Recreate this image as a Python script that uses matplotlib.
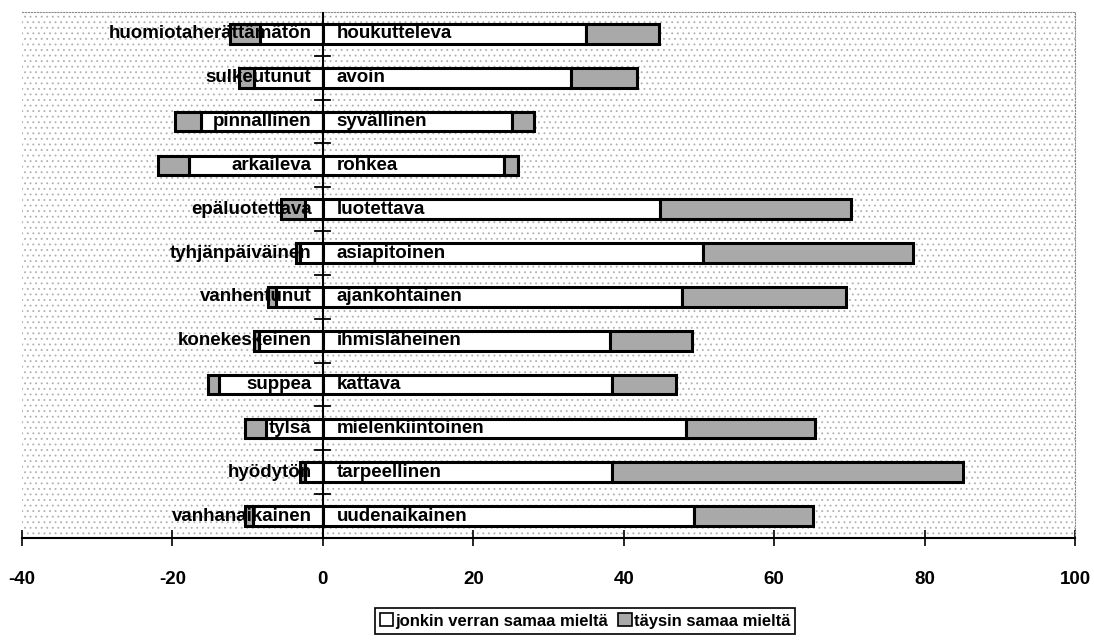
import matplotlib.pyplot as plt
from matplotlib.patches import Rectangle, Patch
import numpy as np

plt.rcParams['font.family'] = ['Liberation Sans', 'DejaVu Sans']
plt.rcParams['hatch.linewidth'] = 0.6

neg_labels = ["huomiotaherättämätön", "sulkeutunut", "pinnallinen", "arkaileva",
              "epäluotettava", "tyhjänpäiväinen", "vanhentunut", "konekeskeinen",
              "suppea", "tylsä", "hyödytön", "vanhanaikainen"]
pos_labels = ["houkutteleva", "avoin", "syvällinen", "rohkea", "luotettava",
              "asiapitoinen", "ajankohtainen", "ihmisläheinen", "kattava",
              "mielenkiintoinen", "tarpeellinen", "uudenaikainen"]

# jonkin verran / täysin samaa mieltä, negative end of each pair
neg_some = [8.4, 9.1, 16.2, 17.8, 2.4, 3.0, 6.2, 8.5, 13.8, 7.6, 2.4, 9.3]
neg_full = [4.0, 2.0, 3.4, 4.1, 3.2, 0.6, 1.1, 0.6, 1.5, 2.7, 0.7, 1.1]
# positive end of each pair
pos_some = [35.0, 33.0, 25.2, 24.1, 44.8, 50.5, 47.8, 38.2, 38.4, 48.3, 38.4, 49.4]
pos_full = [9.7, 8.8, 2.9, 1.8, 25.4, 28.0, 21.8, 10.9, 8.6, 17.1, 46.7, 15.8]

legend_labels = ["jonkin verran samaa mieltä", "täysin samaa mieltä"]
xticks = [-40, -20, 0, 20, 40, 60, 80, 100]

white = "#ffffff"
grey = "#a9a9a9"

fig = plt.figure(figsize=(10.94, 6.44), dpi=100)
ax = fig.add_axes([22 / 1094, 1 - 538 / 644, (1075 - 22) / 1094, (538 - 12) / 644])

y = np.arange(len(neg_labels))
h = 0.45
ns = np.array(neg_some)
nf = np.array(neg_full)
ps = np.array(pos_some)
pf = np.array(pos_full)

kw = dict(height=h, edgecolor="black", linewidth=2.2, zorder=3)
ax.barh(y, -ns, color=white, **kw)
ax.barh(y, -nf, left=-ns, color=grey, **kw)
ax.barh(y, ps, color=white, **kw)
ax.barh(y, pf, left=ps, color=grey, **kw)

for i in range(len(y)):
    ax.text(-1.5, y[i], neg_labels[i], ha="right", va="center",
            fontsize=13.5, fontweight="bold", zorder=5)
    ax.text(1.8, y[i], pos_labels[i], ha="left", va="center",
            fontsize=13.5, fontweight="bold", zorder=5)

# dotted background of the plot area
ax.set_facecolor("white")
ax.add_patch(Rectangle((0, 0), 1, 1, transform=ax.transAxes, facecolor="none",
                       edgecolor="#b0b0b0", hatch="...", linewidth=0, zorder=0))

ax.set_xlim(-40, 100)
ax.set_ylim(len(y) - 0.5, -0.5)
ax.set_xticks(xticks)
ax.set_xticklabels([str(t) for t in xticks], fontsize=13.5, fontweight="bold")
ax.tick_params(axis="x", direction="inout", length=12, width=1.2, pad=18)
ax.set_yticks([])

# zero line with category separators
ax.axvline(0, color="black", linewidth=1.5, zorder=4)
for b in np.arange(0.5, len(y) - 0.5, 1):
    ax.plot([-1.0, 1.0], [b, b], color="black", linewidth=1.3, zorder=4)

ax.spines["left"].set_visible(False)
for s in ["top", "right"]:
    ax.spines[s].set_linestyle(":")
    ax.spines[s].set_color("#888888")
ax.spines["bottom"].set_linewidth(1.5)

handles = [Patch(facecolor=white, edgecolor="black", linewidth=1.2),
           Patch(facecolor=grey, edgecolor="black", linewidth=1.2)]
leg = fig.legend(handles, legend_labels, loc="center", bbox_to_anchor=(585 / 1094, 1 - 621 / 644),
                 ncol=2, prop={"weight": "bold", "size": 12},
                 handlelength=0.8, handleheight=0.8, handletextpad=0.15,
                 columnspacing=0.6, borderpad=0.3, borderaxespad=0,
                 fancybox=False, framealpha=1)
leg.get_frame().set_edgecolor("black")
leg.get_frame().set_linewidth(1.2)

fig.savefig("out.png", dpi=100)
